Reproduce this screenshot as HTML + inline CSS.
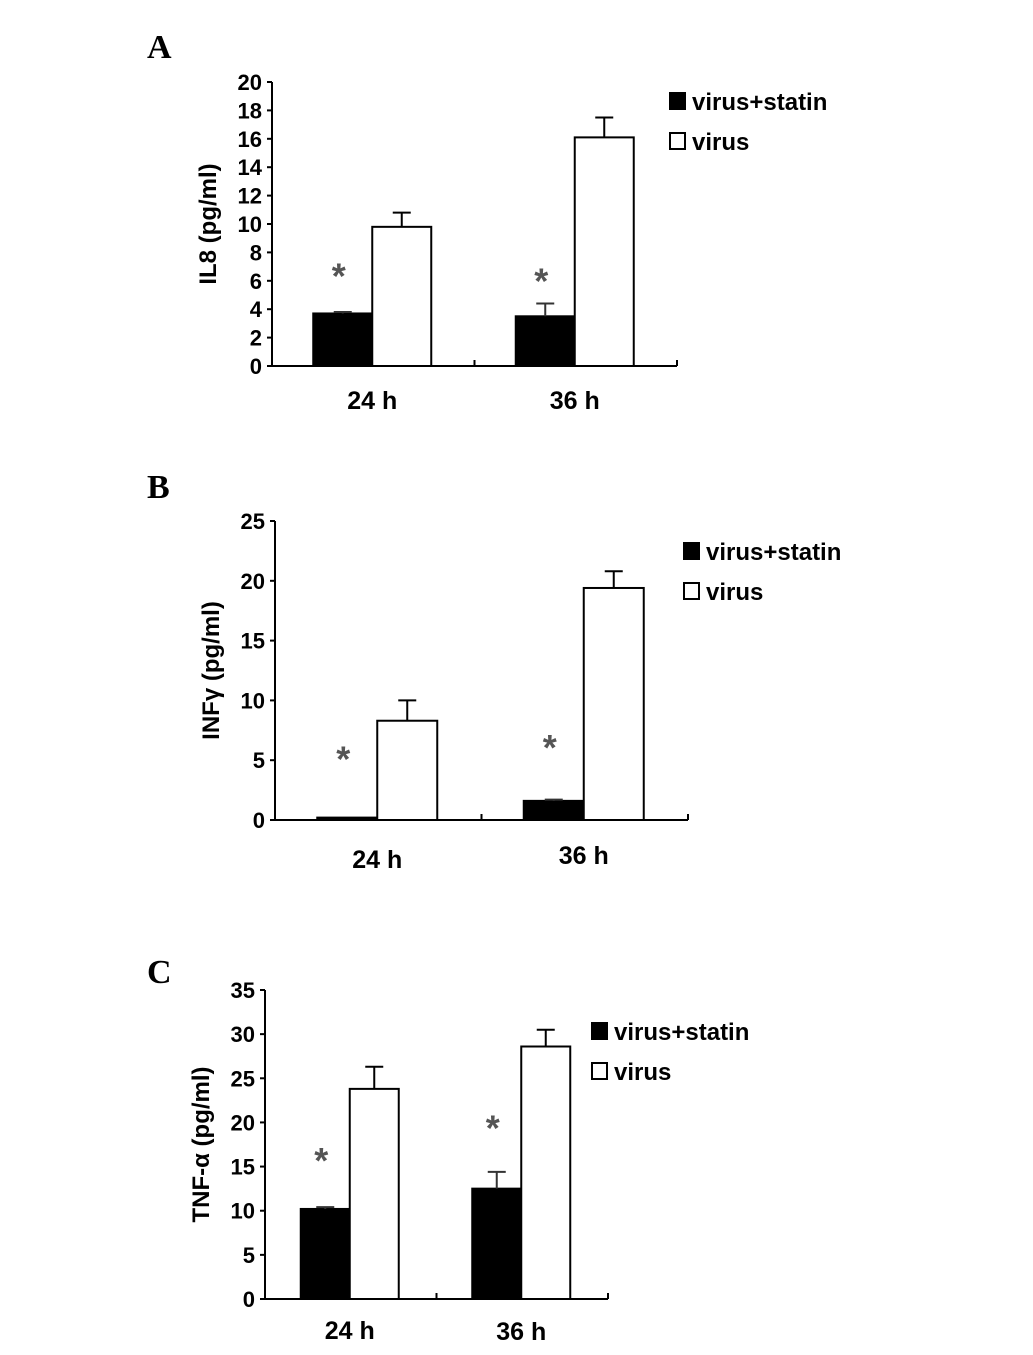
<!DOCTYPE html>
<html><head><meta charset="utf-8"><style>
body{margin:0;background:#fff}
svg text{font-family:"Liberation Sans",Arial,sans-serif;font-weight:bold}
</style></head><body>
<svg id="fig" width="1033" height="1350" viewBox="0 0 1033 1350" xmlns="http://www.w3.org/2000/svg"></svg>
<script>
const categories = ["24 h","36 h"];
const seriesNames = ["virus+statin","virus"];
const il8Statin = [3.7, 3.5];
const il8Virus = [9.8, 16.1];
const il8StatinErr = [0.1, 0.9];
const il8VirusErr = [1.0, 1.4];
const il8Ticks = [0,2,4,6,8,10,12,14,16,18,20];
const infStatin = [0.2, 1.6];
const infVirus = [8.3, 19.4];
const infStatinErr = [0, 0.1];
const infVirusErr = [1.7, 1.4];
const infTicks = [0,5,10,15,20,25];
const tnfStatin = [10.2, 12.5];
const tnfVirus = [23.8, 28.6];
const tnfStatinErr = [0.2, 1.9];
const tnfVirusErr = [2.5, 1.9];
const tnfTicks = [0,5,10,15,20,25,30,35];

const NS="http://www.w3.org/2000/svg";
const svg=document.getElementById('fig');
function mk(tag,attrs,parent){const e=document.createElementNS(NS,tag);for(const k in attrs)e.setAttribute(k,attrs[k]);(parent||svg).appendChild(e);return e;}

function panel(cfg){
  const g=mk('g',{});
  
  
  const maxV=cfg.ticks[cfg.ticks.length-1];
  const y=v=>cfg.y0-(v/maxV)*(cfg.y0-cfg.yTop);
  const lt=mk('text',{x:cfg.letterX,y:cfg.letterY,'font-size':34,style:'font-family:"Liberation Serif",serif;font-weight:bold'},g);
  lt.textContent=cfg.letter;
  
  
  const ya=mk('line',{x1:cfg.x0,y1:cfg.yTop,x2:cfg.x0,y2:cfg.y0,stroke:'#000','stroke-width':2},g);
  
  
  const xa=mk('line',{x1:cfg.x0,y1:cfg.y0,x2:cfg.x1,y2:cfg.y0,stroke:'#000','stroke-width':2},g);
  
  
  const mid=(cfg.x0+cfg.x1)/2;
  mk('line',{x1:mid,y1:cfg.y0,x2:mid,y2:cfg.y0-6,stroke:'#000','stroke-width':2},g);
  mk('line',{x1:cfg.x1,y1:cfg.y0,x2:cfg.x1,y2:cfg.y0-6,stroke:'#000','stroke-width':2},g);
  cfg.ticks.forEach(t=>{
    mk('line',{x1:cfg.x0-5,y1:y(t),x2:cfg.x0,y2:y(t),stroke:'#000','stroke-width':2},g);
    const tx=mk('text',{x:cfg.x0-10,y:y(t)+8,'font-size':22,'text-anchor':'end'},g);
    tx.textContent=t;
    
    
  });
  const at=mk('text',{x:0,y:0,'font-size':24,'text-anchor':'middle',transform:`translate(${cfg.titleX},${(cfg.y0+cfg.yTop)/2}) rotate(-90)`},g);
  at.textContent=cfg.title;
  
  
  const bw=cfg.bw, groupW=(cfg.x1-cfg.x0)/2;
  categories.forEach((c,i)=>{
    const gc=cfg.x0+groupW*(i+0.5)+cfg.shift;
    const vals=[cfg.s[i],cfg.v[i]], errs=[cfg.se[i],cfg.ve[i]];
    vals.forEach((v,j)=>{
      const bx=gc-bw+j*bw;
      const r=mk('rect',{x:bx,y:y(v),width:bw,height:cfg.y0-y(v),fill:j?'#fff':'#000',stroke:'#000','stroke-width':2},g);
      
      
      const cx=bx+bw/2;
      if(errs[j]>0){
        const e=mk('path',{d:`M${cx},${y(v)}V${y(v+errs[j])}M${cx-9},${y(v+errs[j])}H${cx+9}`,stroke:j?'#000':'#333','stroke-width':2,fill:'none'},g);
        
        
      }
      if(j===0){
        const a=mk('text',{x:cx-4,y:y(v)-cfg.astOff[i]+20,'font-size':36,fill:'#555','text-anchor':'middle'},g);
        a.textContent='*';
        
        
      }
    });
    const cl=mk('text',{x:gc,y:cfg.catY[i],'font-size':25,'text-anchor':'middle'},g);
    cl.textContent=c;
    
    
  });
  seriesNames.forEach((n,j)=>{
    const ly=cfg.legY+j*40;
    const sq=mk('rect',{x:cfg.legX,y:ly,width:15,height:16,fill:j?'#fff':'#000',stroke:'#000','stroke-width':2},g);
    
    
    const lt2=mk('text',{x:cfg.legX+22,y:ly+17,'font-size':24},g);
    lt2.textContent=n;
    
    
  });
}
panel({id:'il8',letter:'A',letterX:147,letterY:58,x0:272,x1:677,y0:366,yTop:82,ticks:il8Ticks,title:'IL8 (pg/ml)',titleX:216,
  s:il8Statin,v:il8Virus,se:il8StatinErr,ve:il8VirusErr,bw:59,shift:-1,catY:[409,409],legX:670,legY:93,astOff:[45,43]});
panel({id:'inf',letter:'B',letterX:147,letterY:498,x0:275,x1:688,y0:820,yTop:521,ticks:infTicks,title:'INFγ (pg/ml)',titleX:219,
  s:infStatin,v:infVirus,se:infStatinErr,ve:infVirusErr,bw:60,shift:-1,catY:[868,864],legX:684,legY:543,astOff:[66,61]});
panel({id:'tnf',letter:'C',letterX:147,letterY:983,x0:265,x1:608,y0:1299,yTop:990,ticks:tnfTicks,title:'TNF-α (pg/ml)',titleX:209,
  s:tnfStatin,v:tnfVirus,se:tnfStatinErr,ve:tnfVirusErr,bw:49,shift:-1,catY:[1339,1340],legX:592,legY:1023,astOff:[56,68]});
</script>
</body></html>
